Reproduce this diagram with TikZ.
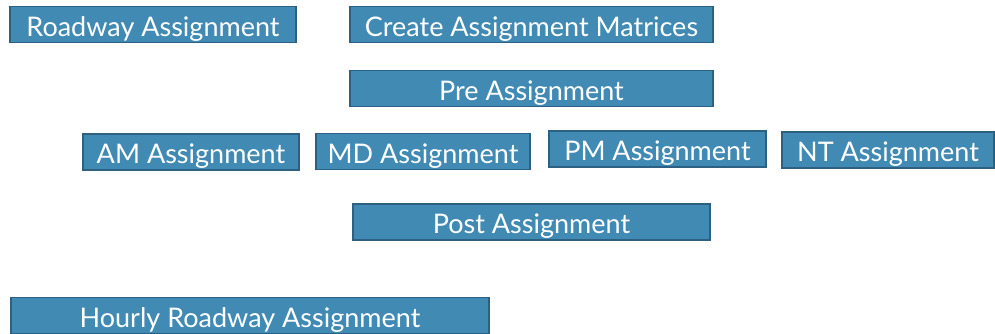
\documentclass[tikz,border=0pt]{standalone}
\usepackage{fontspec}
\setmainfont{Lato}
\definecolor{boxfill}{HTML}{418AB4}
\definecolor{boxline}{HTML}{2D6184}
\begin{document}
\begin{tikzpicture}[x=0.025cm, y=-0.025cm]
    \tikzset{
        stagebox/.style={draw=boxline, fill=boxfill, line width=1.4pt, text=white,
            minimum height=0.9cm, inner sep=0pt, text height=18pt, text depth=1.6pt,
            font=\fontsize{19.2}{22}\selectfont}
    }
    \useasboundingbox (0,0) rectangle (995,334);

    \def\stage#1#2#3#4#5{%
        \node[stagebox, minimum width=#4*0.025cm] (#1) at (#2,#3) {#5};
    }

    \stage{road}{153}{24.5}{286}{Roadway Assignment}
    \stage{matrices}{531.5}{24.5}{363}{Create Assignment Matrices}

    \stage{pre}{531.5}{88.5}{363}{Pre Assignment}

    \stage{am}{191}{152}{216}{AM Assignment}
    \stage{md}{423}{151.5}{214}{MD Assignment}
    \stage{pm}{657.5}{149}{217}{PM Assignment}
    \stage{nt}{888}{150}{212}{NT Assignment}

    \stage{post}{531.5}{222}{357}{Post Assignment}

    \stage{hourly}{250}{315.5}{478}{Hourly Roadway Assignment}
\end{tikzpicture}
\end{document}
